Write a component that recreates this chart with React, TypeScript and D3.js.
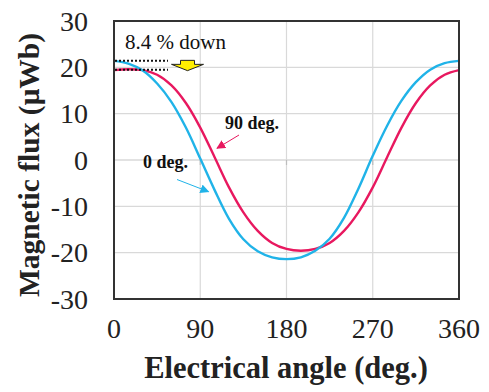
import React from "react";
import * as d3 from "d3";

// Electrical angle samples (deg.)
const angles = [0, 15, 30, 45, 60, 75, 90, 105, 120, 135, 150, 165, 180, 195, 210, 225, 240, 255, 270, 285, 300, 315, 330, 345, 360];
// Magnetic flux (µWb) for the 0 deg. condition
const flux0 = [21.4, 20.8, 19.3, 16.5, 12.5, 7.0, 0.3, -6.5, -12.7, -17.1, -19.7, -21.0, -21.4, -21.0, -19.6, -17.0, -12.5, -6.2, 0.9, 7.4, 12.8, 16.8, 19.5, 20.9, 21.4];
// Magnetic flux (µWb) for the 90 deg. condition
const flux90 = [19.4, 19.6, 19.4, 18.4, 16.1, 12.3, 7.0, 0.6, -5.9, -11.3, -15.3, -17.9, -19.2, -19.6, -19.2, -17.9, -15.3, -11.3, -5.9, 0.6, 7.0, 12.3, 16.1, 18.4, 19.4];

const xTicks = [0, 90, 180, 270, 360];
const yTicks = [30, 20, 10, 0, -10, -20, -30];
const peak0 = 21.4;
const peak90 = 19.5;

const W = 489;
const H = 392;
const left = 114;
const right = 459;
const top = 21;
const bottom = 299;

const BLUE = "#20b3e8";
const PINK = "#e8185f";
const SERIF = "'Liberation Serif', 'Times New Roman', serif";

export default function App() {
  const x = d3.scaleLinear().domain([0, 360]).range([left, right]);
  const y = d3.scaleLinear().domain([-30, 30]).range([bottom, top]);

  const line = d3
    .line<[number, number]>()
    .x((d) => x(d[0]))
    .y((d) => y(d[1]))
    .curve(d3.curveCatmullRom.alpha(0.5));

  const path0 = line(angles.map((a, i) => [a, flux0[i]] as [number, number])) || "";
  const path90 = line(angles.map((a, i) => [a, flux90[i]] as [number, number])) || "";

  // down arrow marking the drop in peak flux
  const ax = 187.5;
  const arrowPts = [
    [ax - 7, y(peak0) - 0.5],
    [ax + 7, y(peak0) - 0.5],
    [ax + 7, y(peak0) + 3.5],
    [ax + 16, y(peak0) + 3.5],
    [ax, y(peak90) + 1],
    [ax - 16, y(peak0) + 3.5],
    [ax - 7, y(peak0) + 3.5],
  ]
    .map((p) => p.join(","))
    .join(" ");

  return (
    <svg
      width={W}
      height={H}
      style={{ position: "absolute", left: 0, top: 0, display: "block", background: "#fff" }}
    >
      <defs>
        <marker id="headBlue" viewBox="0 0 10 10" refX="9" refY="5" markerWidth="9" markerHeight="9" markerUnits="userSpaceOnUse" orient="auto">
          <path d="M0,0 L10,5 L0,10 z" fill={BLUE} />
        </marker>
        <marker id="headPink" viewBox="0 0 10 10" refX="9" refY="5" markerWidth="9" markerHeight="9" markerUnits="userSpaceOnUse" orient="auto">
          <path d="M0,0 L10,5 L0,10 z" fill={PINK} />
        </marker>
      </defs>

      {/* grid */}
      {yTicks
        .filter((t) => t !== 30 && t !== -30)
        .map((t) => (
          <line key={"gy" + t} x1={left} x2={right} y1={y(t)} y2={y(t)} stroke="#d9d9d9" strokeWidth={t === 0 ? 1.6 : 1.2} />
        ))}
      {xTicks
        .filter((t) => t !== 0 && t !== 360)
        .map((t) => (
          <g key={"gx" + t}>
            <line x1={x(t)} x2={x(t)} y1={top} y2={bottom} stroke="#d9d9d9" strokeWidth={1.2} />
            <line x1={x(t)} x2={x(t)} y1={y(0)} y2={y(0) + 5} stroke="#bdbdbd" strokeWidth={1.2} />
          </g>
        ))}

      {/* series */}
      <path d={path90} fill="none" stroke={PINK} strokeWidth={2.4} />
      <path d={path0} fill="none" stroke={BLUE} strokeWidth={2.4} />

      {/* plot frame */}
      <rect x={left} y={top} width={right - left} height={bottom - top} fill="none" stroke="#333" strokeWidth={2} />

      {/* peak markers */}
      <line x1={left + 1} x2={168} y1={y(peak0)} y2={y(peak0)} stroke="#111" strokeWidth={2} strokeDasharray="2,2" />
      <line x1={left + 1} x2={168} y1={y(peak90)} y2={y(peak90)} stroke="#111" strokeWidth={2} strokeDasharray="2,2" />
      <polygon points={arrowPts} fill="#ffee00" stroke="#222" strokeWidth={1} />
      <text x={125} y={49} fontFamily={SERIF} fontSize={21} fill="#111">
        8.4 % down
      </text>

      {/* series labels */}
      <text x={225} y={129} fontFamily={SERIF} fontSize={18} fontWeight="bold" fill="#111">
        90 deg.
      </text>
      <line x1={239} y1={135} x2={217} y2={148.3} stroke={PINK} strokeWidth={1} markerEnd="url(#headPink)" />
      <text x={143} y={168} fontFamily={SERIF} fontSize={18} fontWeight="bold" fill="#111">
        0 deg.
      </text>
      <line x1={177} y1={179.5} x2={208.5} y2={191.7} stroke={BLUE} strokeWidth={1} markerEnd="url(#headBlue)" />

      {/* y tick labels */}
      {yTicks.map((t) => (
        <text key={"ty" + t} x={88} y={y(t)} dy="0.34em" textAnchor="end" fontFamily={SERIF} fontSize={28} fill="#222">
          {t}
        </text>
      ))}
      {/* x tick labels */}
      {xTicks.map((t) => (
        <text key={"tx" + t} x={x(t)} y={338} textAnchor="middle" fontFamily={SERIF} fontSize={28} fill="#222">
          {t}
        </text>
      ))}

      {/* axis titles */}
      <text x={286} y={378} textAnchor="middle" fontFamily={SERIF} fontSize={30.5} fontWeight="bold" fill="#222">
        Electrical angle (deg.)
      </text>
      <text
        transform={`translate(39,165) rotate(-90)`}
        textAnchor="middle"
        fontFamily={SERIF}
        fontSize={29.5}
        fontWeight="bold"
        fill="#222"
      >
        Magnetic flux (μWb)
      </text>
    </svg>
  );
}
